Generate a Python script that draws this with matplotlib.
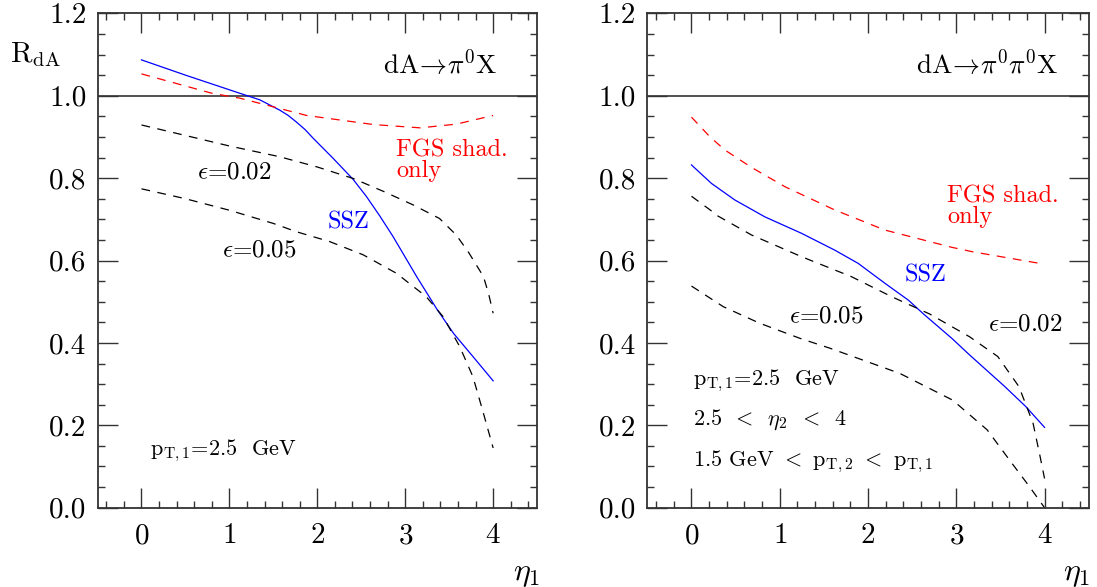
import numpy as np
import matplotlib
matplotlib.use("Agg")
import matplotlib.pyplot as plt
from matplotlib.ticker import MultipleLocator

plt.rcParams['font.family'] = ['cmr10', 'DejaVu Serif']
plt.rcParams['mathtext.fontset'] = 'cm'
plt.rcParams['axes.formatter.use_mathtext'] = True

# left panel: dA -> pi0 X
l_ssz_x = [0, 0.5, 1.118, 1.346, 1.573, 1.67, 1.763, 1.86, 1.952, 2.18, 2.407, 2.56, 2.711, 2.862,
           3.13, 3.36, 3.55, 3.77, 4.0]
l_ssz_y = [1.087, 1.050, 1.006, 0.990, 0.965, 0.952, 0.936, 0.918, 0.897, 0.848, 0.797, 0.755, 0.708, 0.658,
           0.561, 0.482, 0.423, 0.367, 0.308]
l_fgs_x = [0, 0.8, 1.12, 1.88, 2.64, 3.17, 3.58, 4.0]
l_fgs_y = [1.053, 1.006, 0.994, 0.952, 0.930, 0.922, 0.931, 0.952]
l_e02_x = [0, 1.0, 1.57, 2.0, 2.41, 2.75, 3.09, 3.39, 3.58, 3.72, 3.89, 3.95, 4.0]
l_e02_y = [0.929, 0.878, 0.852, 0.827, 0.799, 0.768, 0.735, 0.702, 0.662, 0.620, 0.561, 0.518, 0.472]
l_e05_x = [0, 0.5, 1.0, 1.5, 1.76, 2.14, 2.52, 2.9, 3.24, 3.43, 3.62, 3.77, 3.89, 4.0]
l_e05_y = [0.774, 0.750, 0.722, 0.690, 0.670, 0.646, 0.614, 0.569, 0.512, 0.464, 0.391, 0.318, 0.229, 0.145]

# right panel: dA -> pi0 pi0 X
r_ssz_x = [0, 0.227, 0.491, 0.831, 1.247, 1.625, 1.889, 2.19, 2.456, 2.63, 2.95, 3.15, 3.55, 3.79, 4.0]
r_ssz_y = [0.832, 0.787, 0.747, 0.706, 0.666, 0.625, 0.593, 0.545, 0.504, 0.470, 0.411, 0.371, 0.294, 0.245, 0.195]
r_fgs_x = [0, 0.21, 0.38, 0.68, 1.06, 1.62, 2.19, 2.95, 3.19, 4.0]
r_fgs_y = [0.948, 0.900, 0.868, 0.826, 0.779, 0.723, 0.674, 0.632, 0.621, 0.591]
r_e02_x = [0, 0.21, 0.30, 0.68, 1.25, 1.81, 2.27, 2.70, 3.15, 3.47, 3.71, 3.87, 3.95, 4.0]
r_e02_y = [0.756, 0.723, 0.708, 0.662, 0.609, 0.561, 0.512, 0.470, 0.415, 0.367, 0.294, 0.205, 0.124, 0.071]
r_e05_x = [0, 0.36, 0.77, 1.23, 1.57, 2.36, 2.96, 3.35, 3.63, 3.83, 4.0]
r_e05_y = [0.538, 0.488, 0.448, 0.411, 0.387, 0.326, 0.261, 0.189, 0.108, 0.051, 0.0]

DASH = (7, 6)


def setup(ax):
    ax.set_xlim(-0.5, 4.5)
    ax.set_ylim(0, 1.2)
    ax.xaxis.set_major_locator(MultipleLocator(1))
    ax.xaxis.set_minor_locator(MultipleLocator(0.2))
    ax.yaxis.set_major_locator(MultipleLocator(0.2))
    ax.yaxis.set_minor_locator(MultipleLocator(0.05))
    ax.yaxis.set_major_formatter(plt.FuncFormatter(lambda v, p: "%.1f" % v))
    ax.tick_params(which='both', direction='in', top=True, right=True, width=1.0, color='#333333')
    ax.tick_params(which='major', length=14.5, labelsize=21)
    ax.tick_params(which='minor', length=5)
    ax.tick_params(axis='x', which='major', pad=11)
    ax.tick_params(axis='y', which='major', pad=8)
    for s in ax.spines.values():
        s.set_linewidth(1.3)
        s.set_color('#333333')
    ax.axhline(1.0, color='#333333', lw=1.2)


def draw(ax, ssz_x, ssz_y, fgs_x, fgs_y, e02_x, e02_y, e05_x, e05_y):
    ax.plot(ssz_x, ssz_y, color='#0000ff', lw=0.9)
    ax.plot(fgs_x, fgs_y, color='#ff0000', lw=0.9, dashes=DASH)
    ax.plot(e02_x, e02_y, color='black', lw=0.9, dashes=DASH)
    ax.plot(e05_x, e05_y, color='black', lw=0.9, dashes=DASH)


fig = plt.figure(figsize=(10.97, 5.87), dpi=100)
ax1 = fig.add_axes([0.0889, 0.1351, 0.4007, 0.8422])
ax2 = fig.add_axes([0.5901, 0.1351, 0.4023, 0.8422])

setup(ax1)
setup(ax2)
draw(ax1, l_ssz_x, l_ssz_y, l_fgs_x, l_fgs_y, l_e02_x, l_e02_y, l_e05_x, l_e05_y)
draw(ax2, r_ssz_x, r_ssz_y, r_fgs_x, r_fgs_y, r_e02_x, r_e02_y, r_e05_x, r_e05_y)

LT = r'$\,<\,$'

# labels in left panel (multi-line text: y is the baseline of the last line)
ax1.text(4.05, 1.053, r'dA$\!\rightarrow\!\pi^0$X', fontsize=19.5, ha='right', va='baseline')
ax1.text(2.90, 0.803, 'FGS shad.\nonly', fontsize=17.5, color='#ff0000', va='baseline',
         linespacing=0.92)
ax1.text(0.63, 0.800, r'$\epsilon$=0.02', fontsize=18, va='baseline')
ax1.text(0.92, 0.609, r'$\epsilon$=0.05', fontsize=18, va='baseline')
ax1.text(2.12, 0.678, 'SSZ', fontsize=17.5, color='#0000ff', va='baseline')
ax1.text(0.10, 0.128, r'$\mathrm{p_{T,1}}$=2.5  GeV', fontsize=16, va='baseline')

# labels in right panel
ax2.text(4.16, 1.053, r'dA$\!\rightarrow\!\pi^0\pi^0$X', fontsize=19.5, ha='right', va='baseline')
ax2.text(2.90, 0.690, 'FGS shad.\nonly', fontsize=17.5, color='#ff0000', va='baseline',
         linespacing=0.92)
ax2.text(2.41, 0.549, 'SSZ', fontsize=17.5, color='#0000ff', va='baseline')
ax2.text(1.10, 0.449, r'$\epsilon$=0.05', fontsize=18, va='baseline')
ax2.text(3.36, 0.431, r'$\epsilon$=0.02', fontsize=18, va='baseline')
ax2.text(0.02, 0.298, r'$\mathrm{p_{T,1}}$=2.5  GeV', fontsize=16, va='baseline')
ax2.text(0.02, 0.201, '2.5 ' + LT + r' $\eta_2$ ' + LT + ' 4', fontsize=16, va='baseline')
ax2.text(0.02, 0.100, r'1.5 GeV $<$ $\mathrm{p_{T,2}}$ $<$ $\mathrm{p_{T,1}}$',
         fontsize=16, va='baseline')

# axis titles
fig.text(0.009, 0.894, r'R$_{\mathrm{dA}}$', fontsize=21, va='baseline')
fig.text(0.4923, 0.012, r'$\eta_1$', fontsize=23, ha='right', va='baseline')
fig.text(0.9936, 0.012, r'$\eta_1$', fontsize=23, ha='right', va='baseline')

fig.savefig('out.png', dpi=100)
